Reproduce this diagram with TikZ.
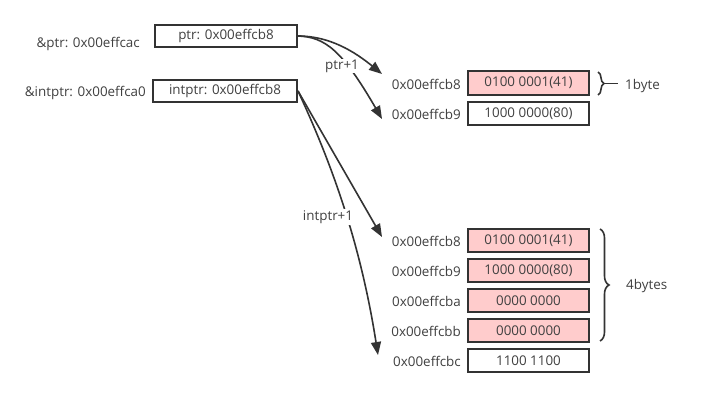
\documentclass[tikz,border=0pt]{standalone}
\usepackage{fontspec}
\setmainfont{Open Sans}
\usetikzlibrary{arrows.meta,decorations.pathreplacing}
\definecolor{ink}{HTML}{333333}
\definecolor{txt}{HTML}{404040}
\definecolor{pinkfill}{HTML}{FFCCCC}
\tikzset{
  fs/.style={font=\fontsize{13.4}{14}\selectfont},
  membox/.style={draw=ink, line width=2pt, minimum width=121pt, minimum height=23pt, inner sep=0pt, fs, text=txt},
  hot/.style={membox, fill=pinkfill},
  ptrbox/.style={membox, minimum height=22pt},
  addr/.style={anchor=east, fs, text=txt, inner sep=0pt},
  lbl/.style={fs, text=txt, inner sep=1pt},
  arr/.style={draw=ink, line width=1.6pt, -{Triangle[length=13pt,width=10pt]}},
  brc/.style={draw=ink, line width=1.6pt, decorate}
}
\begin{document}
\begin{tikzpicture}[x=1pt,y=-1pt]
\useasboundingbox[fill=white] (0,0) rectangle (728,404);
% pointer boxes
\node[ptrbox, minimum width=142pt] (ptr) at (226,36) {ptr: 0x00effcb8};
\node[ptrbox, minimum width=144pt] (intptr) at (225,91) {intptr: 0x00effcb8};
\node[addr] (aptr) at (140,44) {\&ptr: 0x00effcac};
\node[addr] (aintptr) at (146,93) {\&intptr: 0x00effca0};
% top memory
\node[hot] (t1) at (528.5,83) {0100 0001(41)};
\node[membox] (t2) at (528.5,113.5) {1000 0000(80)};
\node[addr] (ta1) at (461,84) {0x00effcb8};
\node[addr] (ta2) at (461,114) {0x00effcb9};
% bottom memory
\node[hot] (b1) at (528.5,240.5) {0100 0001(41)};
\node[hot] (b2) at (528.5,270.5) {1000 0000(80)};
\node[hot] (b3) at (528.5,300.5) {0000 0000};
\node[hot] (b4) at (528.5,330.5) {0000 0000};
\node[membox] (b5) at (528.5,360.5) {1100 1100};
\node[addr] (ba1) at (461,241) {0x00effcb8};
\node[addr] (ba2) at (461,271) {0x00effcb9};
\node[addr] (ba3) at (461,301) {0x00effcba};
\node[addr] (ba4) at (461,331) {0x00effcbb};
\node[addr] (ba5) at (461,361) {0x00effcbc};
% arrow end coordinates
\coordinate (eA) at (382,74);
\coordinate (eB) at (382,119);
\coordinate (eC) at (382,237);
\coordinate (eD) at (378,355);
% arrows
\draw[arr] (ptr.east) .. controls (330,36) and (355,52) .. (eA);
\draw[arr] (ptr.east) .. controls (325,37) and (342,50) .. (eB);
\draw[arr] (intptr.east) -- (eC);
\draw[arr] (intptr.east) .. controls (330,160) and (360,240) .. (eD);
% labels
\node[lbl, fill=white] (l1) at (342,66) {ptr+1};
\node[lbl, fill=white] (l2) at (328,217) {intptr+1};
% braces
\draw[brc, decoration={brace, amplitude=6pt, raise=0pt}] (598,72) -- (598,95);
\draw[draw=ink, line width=1.6pt] (604,83.5) -- (618,83.5);
\node[lbl, anchor=west] (by1) at (624,86) {1byte};
\draw[brc, decoration={brace, amplitude=9pt}] (600,229) -- (600,341);
\node[lbl, anchor=west] (by4) at (625,286) {4bytes};
\end{tikzpicture}
\end{document}
